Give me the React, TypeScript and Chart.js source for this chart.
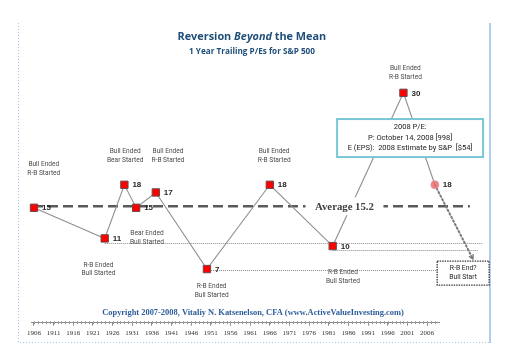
import React, { useEffect, useRef } from 'react';
import { Chart, registerables } from 'chart.js';

Chart.register(...registerables);

// ---------- data ----------
const TICK_YEARS = [1906, 1911, 1916, 1921, 1926, 1931, 1936, 1941, 1946, 1951, 1956, 1961, 1966, 1971, 1976, 1981, 1986, 1991, 1996, 2001, 2006];
const TICK_LABELS = ['1906', '1911', '1916', '1921', '1926', '1931', '1936', '1941', '1946', '1951', '1956', '1961', '1966', '1971', '1976', '1981', '1986', '1991', '1996', '2001', '2006'];

const PE_YEARS = [1906, 1924, 1929, 1932, 1937, 1950, 1966, 1982, 2000, 2008];
const PE_VALUES = [15, 11, 18, 15, 17, 7, 18, 10, 30, 18];

const PROJ_YEARS = [2008, 2017.7];
const PROJ_VALUES = [18, 8.3];

const AVERAGE = 15.2;
const AVERAGE_LABEL = 'Average 15.2';
const AVG_FROM = 1905.75;
const AVG_TO = 2016.9;
const AVG_LABEL_YEAR = 1985.0;

const LEVEL_VALUES = [10.37, 9.46, 6.87];
const LEVEL_FROM = [1924, 1982, 1950];
const LEVEL_TO = [2020.2, 2019, 2012];

const EVENT_TEXT = [
  ['Bull Ended', 'R-B Started'],
  ['Bull Ended', 'Bear Started'],
  ['Bull Ended', 'R-B Started'],
  ['Bear Ended', 'Bull Started'],
  ['R-B Ended', 'Bull Started'],
  ['R-B Ended', 'Bull Started'],
  ['Bull Ended', 'R-B Started'],
  ['R-B Ended', 'Bull Started'],
  ['Bull Ended', 'R-B Started'],
];
const EVENT_YEARS = [1908.5, 1929.2, 1940.1, 1934.75, 1922.4, 1951.2, 1967.1, 1984.6, 2000.5];
const EVENT_VALUES = [20.03, 21.75, 21.75, 11.04, 6.97, 4.15, 21.75, 6.03, 32.6];

const NOTE_LINES = ['2008 P/E:', 'P: October 14, 2008 [998]', 'E (EPS):  2008 Estimate by S&P  [$54]'];
const NOTE_YEAR = 2001.7;
const NOTE_VALUE = 24.1;

const END_LINES = ['R-B End?', 'Bull Start'];
const END_YEAR = 2015.2;
const END_VALUE = 6.48;

const TITLE_PARTS = ['Reversion ', 'Beyond', ' the Mean'];
const SUBTITLE = '1 Year Trailing P/Es for S&P 500';
const COPYRIGHT = 'Copyright 2007-2008, Vitaliy N. Katsenelson, CFA (www.ActiveValueInvesting.com)';

// ---------- style ----------
const W = 520;
const H = 364;
const XMIN = 1905.24;
const XMAX = 2009.05;
const YMIN = 0;
const YMAX = 34;

function fitSize(ctx: CanvasRenderingContext2D, text: string, prefix: string, family: string, target: number) {
  ctx.font = `${prefix} 20px ${family}`;
  const w = ctx.measureText(text).width;
  return (20 * target) / w;
}

const drawPlugin = {
  id: 'decor',
  beforeDraw(chart: any) {
    const ctx = chart.ctx;
    ctx.save();
    ctx.fillStyle = '#ffffff';
    ctx.fillRect(0, 0, W, H);
    // frame
    ctx.strokeStyle = '#a9c6ea';
    ctx.lineWidth = 1;
    ctx.setLineDash([1, 2]);
    ctx.beginPath();
    ctx.moveTo(18.5, 23);
    ctx.lineTo(18.5, 342.5);
    ctx.lineTo(490, 342.5);
    ctx.stroke();
    ctx.setLineDash([]);
    ctx.lineWidth = 2;
    ctx.strokeStyle = '#b4cdee';
    ctx.beginPath();
    ctx.moveTo(490, 23);
    ctx.lineTo(490, 343);
    ctx.stroke();
    ctx.restore();
  },
  beforeDatasetsDraw(chart: any) {
    const ctx = chart.ctx;
    const xs = chart.scales.x;
    const ys = chart.scales.y;
    ctx.save();
    // minor ticks on axis
    const by = chart.chartArea.bottom;
    ctx.strokeStyle = '#9a9a9a';
    ctx.lineWidth = 1;
    for (let yr = 1906; yr <= 2008; yr++) {
      const x = Math.round(xs.getPixelForValue(yr)) + 0.5;
      ctx.beginPath();
      ctx.moveTo(x, by - 1.5);
      ctx.lineTo(x, by + 1.5);
      ctx.stroke();
    }
    // level lines (thin dotted)
    ctx.strokeStyle = '#8c8c8c';
    ctx.lineWidth = 1;
    ctx.setLineDash([1, 1]);
    LEVEL_VALUES.forEach((v, i) => {
      const y = Math.round(ys.getPixelForValue(v)) + 0.5;
      ctx.beginPath();
      ctx.moveTo(xs.getPixelForValue(LEVEL_FROM[i]), y);
      ctx.lineTo(xs.getPixelForValue(LEVEL_TO[i]), y);
      ctx.stroke();
    });
    // average dashed line
    ctx.setLineDash([10, 5]);
    ctx.lineWidth = 2.5;
    ctx.strokeStyle = '#5a5a5a';
    const ay = ys.getPixelForValue(AVERAGE);
    ctx.beginPath();
    ctx.moveTo(xs.getPixelForValue(AVG_FROM), ay);
    ctx.lineTo(xs.getPixelForValue(AVG_TO), ay);
    ctx.stroke();
    ctx.restore();
  },
  afterDatasetsDraw(chart: any) {
    const ctx = chart.ctx;
    const xs = chart.scales.x;
    const ys = chart.scales.y;
    ctx.save();

    // arrow head at projection end
    {
      const x1 = xs.getPixelForValue(PROJ_YEARS[0]);
      const y1 = ys.getPixelForValue(PROJ_VALUES[0]);
      const x2 = xs.getPixelForValue(PROJ_YEARS[1]);
      const y2 = ys.getPixelForValue(PROJ_VALUES[1]);
      const a = Math.atan2(y2 - y1, x2 - x1);
      ctx.strokeStyle = '#6f6f6f';
      ctx.lineWidth = 1.2;
      ctx.beginPath();
      ctx.moveTo(x2 - 5 * Math.cos(a - 0.5), y2 - 5 * Math.sin(a - 0.5));
      ctx.lineTo(x2, y2);
      ctx.lineTo(x2 - 5 * Math.cos(a + 0.5), y2 - 5 * Math.sin(a + 0.5));
      ctx.stroke();
    }

    // average label
    {
      const cx = xs.getPixelForValue(AVG_LABEL_YEAR);
      const cy = ys.getPixelForValue(AVERAGE);
      ctx.fillStyle = '#ffffff';
      ctx.fillRect(cx - 39, cy - 9, 78, 18);
      const s = fitSize(ctx, AVERAGE_LABEL, 'bold', '"Liberation Serif"', 59);
      ctx.font = `bold ${s}px "Liberation Serif"`;
      ctx.fillStyle = '#404040';
      ctx.textAlign = 'center';
      ctx.textBaseline = 'middle';
      ctx.fillText(AVERAGE_LABEL, cx, cy + 0.5);
    }

    // note box (2008 P/E)
    {
      const cx = xs.getPixelForValue(NOTE_YEAR);
      const cy = ys.getPixelForValue(NOTE_VALUE);
      const bw = 146, bh = 38;
      ctx.fillStyle = '#ffffff';
      ctx.fillRect(cx - bw / 2, cy - bh / 2, bw, bh);
      ctx.strokeStyle = '#78c6d6';
      ctx.lineWidth = 2;
      ctx.setLineDash([]);
      ctx.strokeRect(cx - bw / 2, cy - bh / 2, bw, bh);
      const s = fitSize(ctx, NOTE_LINES[2], '', 'Roboto', 125);
      ctx.font = `${s}px Roboto`;
      ctx.fillStyle = '#1a1a1a';
      ctx.textAlign = 'center';
      ctx.textBaseline = 'middle';
      NOTE_LINES.forEach((t, i) => ctx.fillText(t, cx, cy + (i - 1) * 10.5));
    }

    // end box
    {
      const cx = xs.getPixelForValue(END_YEAR);
      const cy = ys.getPixelForValue(END_VALUE);
      const bw = 52, bh = 24;
      ctx.fillStyle = '#ffffff';
      ctx.fillRect(cx - bw / 2, cy - bh / 2, bw, bh);
      ctx.strokeStyle = '#3a3a3a';
      ctx.lineWidth = 1.3;
      ctx.setLineDash([1.5, 1]);
      ctx.strokeRect(cx - bw / 2, cy - bh / 2, bw, bh);
      ctx.setLineDash([]);
      ctx.font = '6.8px Roboto';
      ctx.fillStyle = '#262626';
      ctx.textAlign = 'center';
      ctx.textBaseline = 'middle';
      END_LINES.forEach((t, i) => ctx.fillText(t, cx, cy + (i - 0.5) * 9));
    }

    // event annotations
    {
      const s = fitSize(ctx, 'R-B Started', '', 'Roboto', 33);
      ctx.font = `${s}px Roboto`;
      ctx.fillStyle = '#4a4a4a';
      ctx.textAlign = 'center';
      ctx.textBaseline = 'middle';
      EVENT_TEXT.forEach((lines, i) => {
        const cx = xs.getPixelForValue(EVENT_YEARS[i]);
        const cy = ys.getPixelForValue(EVENT_VALUES[i]);
        lines.forEach((t, j) => ctx.fillText(t, cx, cy + (j - 0.5) * 8.8));
      });
    }

    // value labels
    ctx.font = 'bold 8px "Liberation Sans"';
    ctx.fillStyle = '#262626';
    ctx.textAlign = 'left';
    ctx.textBaseline = 'middle';
    PE_VALUES.forEach((v, i) => {
      const x = xs.getPixelForValue(PE_YEARS[i]);
      const y = ys.getPixelForValue(v);
      ctx.fillText(String(v), x + 8, y + 0.5);
    });

    // title
    {
      const fam = '"Open Sans"';
      const styles = ['bold', 'italic bold', 'bold'];
      let total = 0;
      TITLE_PARTS.forEach((p, i) => {
        ctx.font = `${styles[i]} 20px ${fam}`;
        total += ctx.measureText(p).width;
      });
      const s = (20 * 149) / total;
      let x = 252 - 149 / 2;
      ctx.fillStyle = '#1f4e79';
      ctx.textAlign = 'left';
      ctx.textBaseline = 'alphabetic';
      TITLE_PARTS.forEach((p, i) => {
        ctx.font = `${styles[i]} ${s}px ${fam}`;
        ctx.fillText(p, x, 39.5);
        x += ctx.measureText(p).width;
      });
      const s2 = fitSize(ctx, SUBTITLE, 'bold', fam, 126);
      ctx.font = `bold ${s2}px ${fam}`;
      ctx.textAlign = 'center';
      ctx.fillText(SUBTITLE, 252, 53.5);
    }

    // copyright
    {
      const s = fitSize(ctx, COPYRIGHT, 'bold', '"Liberation Serif"', 302);
      ctx.font = `bold ${s}px "Liberation Serif"`;
      ctx.fillStyle = '#2e5d9b';
      ctx.textAlign = 'center';
      ctx.textBaseline = 'middle';
      ctx.fillText(COPYRIGHT, 253, 313);
    }

    ctx.restore();
  },
};

export default function App() {
  const ref = useRef<HTMLCanvasElement | null>(null);
  useEffect(() => {
    if (!ref.current) return;
    const mainData = PE_YEARS.map((x, i) => ({ x, y: PE_VALUES[i] }));
    const projData = PROJ_YEARS.map((x, i) => ({ x, y: PROJ_VALUES[i] }));
    const last = PE_VALUES.length - 1;
    const chart = new Chart(ref.current, {
      type: 'line',
      data: {
        datasets: [
          {
            data: projData,
            borderColor: '#7a7a7a',
            borderWidth: 2,
            borderDash: [1.5, 2.5],
            borderCapStyle: 'round',
            pointRadius: 0,
            clip: false,
            order: 2,
          },
          {
            data: mainData,
            borderColor: '#8f8f8f',
            borderWidth: 1.1,
            tension: 0,
            pointStyle: PE_VALUES.map((_, i) => (i === last ? 'circle' : 'rect')),
            pointRadius: PE_VALUES.map((_, i) => (i === last ? 4 : 5.2)),
            pointBackgroundColor: PE_VALUES.map((_, i) => (i === last ? 'rgba(236,110,110,0.85)' : '#ff0000')),
            pointBorderColor: PE_VALUES.map((_, i) => (i === last ? 'rgba(220,150,150,0.8)' : '#6b4a4a')),
            pointBorderWidth: 1,
            clip: false,
            order: 1,
          },
        ],
      },
      options: {
        responsive: false,
        animation: false,
        devicePixelRatio: 1,
        layout: { padding: { left: 31, right: 81, top: 62.2, bottom: 23.9 } },
        plugins: { legend: { display: false }, tooltip: { enabled: false }, title: { display: false } },
        scales: {
          x: {
            type: 'linear',
            min: XMIN,
            max: XMAX,
            position: 'bottom',
            afterBuildTicks: (s: any) => {
              s.ticks = TICK_YEARS.map((v) => ({ value: v }));
            },
            ticks: {
              autoSkip: false,
              maxRotation: 0,
              padding: 3,
              color: '#333333',
              font: { family: '"Liberation Serif"', size: 7 },
              callback: (v: any) => {
                const i = TICK_YEARS.indexOf(Number(v));
                return i >= 0 ? TICK_LABELS[i] : '';
              },
            },
            grid: { drawOnChartArea: false, drawTicks: true, tickLength: 3, color: '#8a8a8a' },
            border: { display: true, color: '#8a8a8a', width: 1 },
          },
          y: { display: false, min: YMIN, max: YMAX },
        },
      },
      plugins: [drawPlugin],
    } as any);
    return () => chart.destroy();
  }, []);
  return (
    <div style={{ position: 'absolute', left: 0, top: 0, width: W, height: H }}>
      <canvas ref={ref} width={W} height={H} style={{ display: 'block' }} />
    </div>
  );
}
